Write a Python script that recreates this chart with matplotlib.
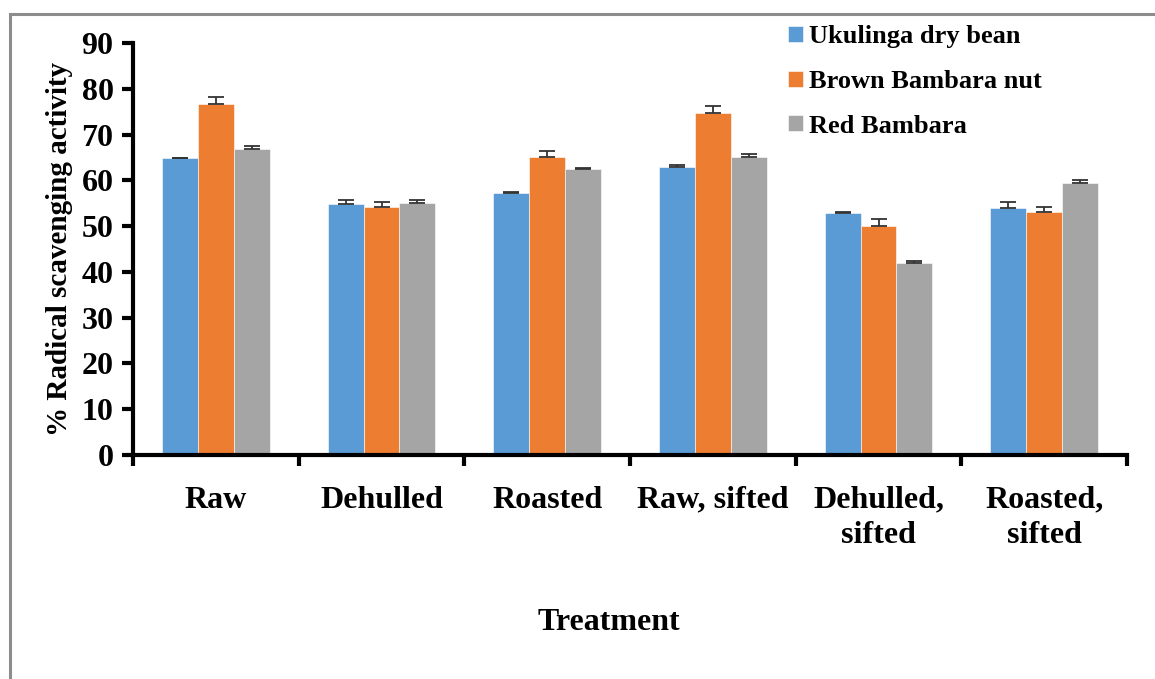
import numpy as np
import matplotlib
matplotlib.use('Agg')
import matplotlib.pyplot as plt
from matplotlib.patches import Rectangle

treatments = ['Raw', 'Dehulled', 'Roasted', 'Raw, sifted', 'Dehulled,\nsifted', 'Roasted,\nsifted']
series_names = ['Ukulinga dry bean', 'Brown Bambara nut', 'Red Bambara']
ukulinga = [64.8, 54.8, 57.3, 62.9, 52.8, 53.9]
brown = [76.6, 54.2, 65.1, 74.6, 50.0, 53.1]
red = [66.8, 55.1, 62.4, 65.1, 41.9, 59.5]
ukulinga_err = [0.15, 0.8, 0.1, 0.4, 0.2, 1.3]
brown_err = [1.6, 1.1, 1.3, 1.6, 1.6, 1.0]
red_err = [0.8, 0.5, 0.2, 0.7, 0.5, 0.5]
colors = ['#5B9BD5', '#ED7D31', '#A5A5A5']

plt.rcParams['font.family'] = ['Liberation Serif', 'DejaVu Serif']
plt.rcParams['font.weight'] = 'bold'

fig = plt.figure(figsize=(11.55, 6.79), dpi=100)
ax = fig.add_axes([133 / 1155, 1 - 455 / 679, (1127 - 133) / 1155, (455 - 43) / 679])

# outer gray frame (right and bottom edges fall outside the image)
fig.patches.append(Rectangle((10 / 1155, -0.2), 1.2, 1 - 14 / 679 + 0.2,
                             transform=fig.transFigure, fill=False,
                             edgecolor='#8c8c8c', linewidth=2.2, zorder=0))

x = np.arange(len(treatments))
width = 0.217
all_vals = [ukulinga, brown, red]
all_errs = [ukulinga_err, brown_err, red_err]
for i, (vals, errs) in enumerate(zip(all_vals, all_errs)):
    pos = x + (i - 1) * width
    ax.bar(pos, vals, width, color=colors[i], label=series_names[i],
           edgecolor='white', linewidth=0.4, zorder=2)
    ax.errorbar(pos, vals, yerr=[np.zeros(len(errs)), errs], fmt='none',
                ecolor='#333333', elinewidth=1.3, capsize=6, capthick=1.3, zorder=3)

ax.set_xlim(-0.5, len(treatments) - 0.5)
ax.set_ylim(0, 90)
ax.set_yticks(np.arange(0, 91, 10))
ax.tick_params(axis='y', which='major', direction='out', length=8, width=3,
               labelsize=23, pad=6)

ax.set_xticks(np.arange(len(treatments) + 1) - 0.5)
ax.set_xticklabels([])
ax.tick_params(axis='x', which='major', direction='out', length=8, width=3)
ax.set_xticks(x, minor=True)
ax.set_xticklabels(treatments, minor=True, fontsize=23, fontweight='bold',
                   linespacing=1.3)
ax.tick_params(axis='x', which='minor', length=0, pad=22)

for s in ['top', 'right']:
    ax.spines[s].set_visible(False)
for s in ['left', 'bottom']:
    ax.spines[s].set_linewidth(3)

ax.set_ylabel('% Radical scavenging activity', fontsize=21, fontweight='bold', labelpad=6)
fig.text(609 / 1155, 1 - 622 / 679, 'Treatment', fontsize=23, fontweight='bold',
         ha='center', va='center')

leg = ax.legend(loc='upper left', bbox_to_anchor=(783 / 1155, 1 - 20 / 679),
                bbox_transform=fig.transFigure, frameon=False, fontsize=19,
                handlelength=0.55, handleheight=0.55, handletextpad=0.25,
                labelspacing=0.82, borderaxespad=0, borderpad=0.2)
for t in leg.get_texts():
    t.set_fontweight('bold')

fig.savefig('out.png', dpi=100, facecolor='white')
